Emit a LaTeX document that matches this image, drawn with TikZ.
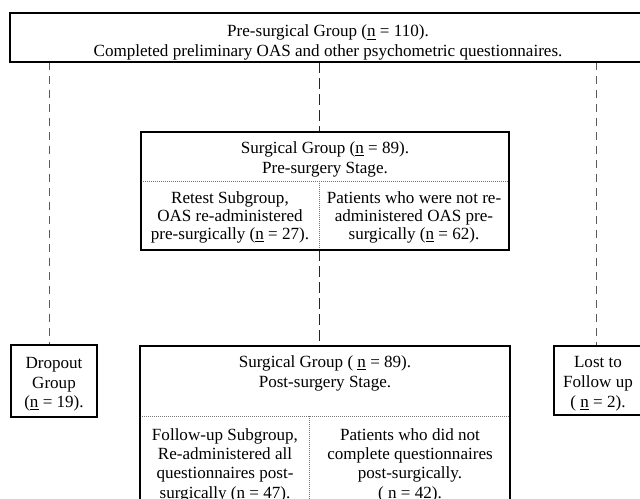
\documentclass[tikz,border=0pt]{standalone}
\usepackage{fontspec}
\setmainfont{Liberation Serif}
\usetikzlibrary{calc}
\begin{document}
\begin{tikzpicture}[x=0.75pt,y=-0.75pt,
  box/.style={draw=black, line width=1.1pt, rectangle, inner sep=0pt, outer sep=0pt},
  txt/.style={align=center, inner sep=0pt, font=\fontsize{12.8pt}{14pt}\selectfont},
  txtw/.style={align=center, inner sep=0pt, font=\fontsize{12.8pt}{#1}\selectfont},
  divline/.style={draw=black!55, line width=0.5pt, dash pattern=on 0.75pt off 0.75pt},
  sidedash/.style={draw=black!65, line width=0.6pt, dash pattern=on 6pt off 4.5pt},
  centerdash/.style={draw=black!85, line width=0.7pt, dash pattern=on 8pt off 4pt}]
\useasboundingbox (0,0) rectangle (640,499);
\fill[white] (0,0) rectangle (640,499);
\begin{scope}
\clip (0,0) rectangle (640,499);
% boxes
\node[box, minimum width=636*0.75pt, minimum height=49*0.75pt] (top) at (328,37.5) {};
\node[box, minimum width=368*0.75pt, minimum height=118*0.75pt] (mid) at (325,191) {};
\node[box, minimum width=370*0.75pt, minimum height=174*0.75pt] (bot) at (325,433) {};
\node[box, minimum width=86*0.75pt, minimum height=72*0.75pt] (drop) at (54,381) {};
\node[box, minimum width=88*0.75pt, minimum height=69*0.75pt] (lost) at (598,380.5) {};
% reference coordinates on node borders
\coordinate (cm) at ($(mid.north west)!0.484!(mid.north east)$);
\coordinate (cb) at ($(bot.north west)!0.484!(bot.north east)$);
\coordinate (cl) at ($(drop.north west)!0.448!(drop.north east)$);
\coordinate (cr) at ($(lost.north west)!0.477!(lost.north east)$);
\coordinate (msl) at ($(mid.north west)!0.415!(mid.south west)$);
\coordinate (bsl) at ($(bot.north west)!0.402!(bot.south west)$);
\coordinate (bdv) at ($(bot.north west)!0.457!(bot.north east)$);
% connectors
\draw[sidedash] (top.south -| cl) -- (cl);
\draw[sidedash] (top.south -| cr) -- (cr);
\draw[centerdash] (top.south -| cm) -- (cm);
\draw[centerdash] (mid.south -| cb) -- (cb);
% internal division lines
\draw[divline] (msl) -- (msl -| mid.east);
\draw[divline] (msl -| cm) -- (mid.south -| cm);
\draw[divline] (bsl) -- (bsl -| bot.east);
\draw[divline] (bsl -| bdv) -- (bot.south -| bdv);
% redraw borders on top
\draw[line width=1.1pt] (top.north west) rectangle (top.south east);
\draw[line width=1.1pt] (mid.north west) rectangle (mid.south east);
\draw[line width=1.1pt] (bot.north west) rectangle (bot.south east);
\draw[line width=1.1pt] (drop.north west) rectangle (drop.south east);
\draw[line width=1.1pt] (lost.north west) rectangle (lost.south east);
% texts
\node[txtw=14.5pt] (t1) at (328,42.5) {Pre-surgical Group (\underline{n} = 110).\\Completed preliminary OAS and other psychometric questionnaires.};
\node[txtw=15.5pt] (t2) at (325,159.5) {Surgical Group (\underline{n} = 89).\\Pre-surgery Stage.};
\node[txtw=13.6pt] (t3) at (230,217.5) {Retest Subgroup,\\OAS re-administered\\pre-surgically (\underline{n} = 27).};
\node[txtw=13.6pt] (t4) at (414,217.5) {Patients who were not re-\\administered OAS pre-\\surgically (\underline{n} = 62).};
\node[txtw=14.7pt] (t5) at (54,384.5) {Dropout\\Group\\(\underline{n} = 19).};
\node[txtw=15.2pt] (t6) at (598,383.5) {Lost to\\Follow up\\( \underline{n} = 2).};
\node[txtw=15.5pt] (t7) at (325,373.5) {Surgical Group ( \underline{n} = 89).\\Post-surgery Stage.};
\node[txtw=14.5pt] (t8) at (225,465) {Follow-up Subgroup,\\Re-administered all\\questionnaires post-\\surgically (n = 47).};
\node[txtw=14.5pt] (t9) at (410,465) {Patients who did not\\complete questionnaires\\post-surgically.\\( n = 42).};
\end{scope}
\end{tikzpicture}
\end{document}
